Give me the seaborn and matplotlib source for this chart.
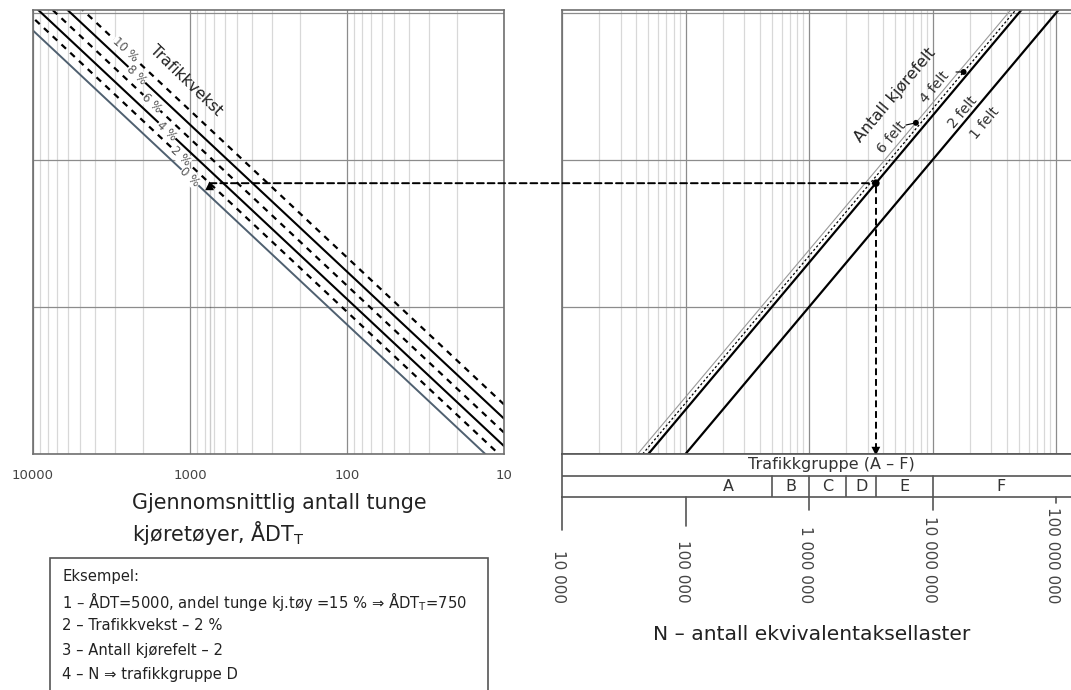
import numpy as np
import pandas as pd
import matplotlib.pyplot as plt
import seaborn as sns
from matplotlib.ticker import LogLocator, NullLocator, NullFormatter
from matplotlib.patches import ConnectionPatch, Rectangle

# --- data -------------------------------------------------------------
adt_ende = [10, 10000]                     # ÅDT_T, endepunkter
aksler_per_adt = 7600                      # Y per ÅDT_T (0 % vekst)
vekst_navn = ["0 %", "2 %", "4 %", "6 %", "8 %", "10 %"]
vekst_faktor = [1.00, 1.22, 1.49, 1.84, 2.29, 2.86]

y_ende = [1e5, 1.3e8]
felt_navn = ["1 felt", "2 felt", "4 felt", "6 felt"]
felt_faktor = [1.00, 0.50, 0.45, 0.41]

gruppe_navn = ["A", "B", "C", "D", "E", "F"]
gruppe_grenser = [1e5, 5e5, 1e6, 2e6, 3.5e6, 1e7, 1.3e8]

adt_ticks = [10000, 1000, 100, 10]
adt_tick_labels = ["10000", "1000", "100", "10"]
n_ticks = [1e4, 1e5, 1e6, 1e7, 1e8]
n_tick_labels = ["10 000", "100 000", "1 000 000", "10 000 000", "100 000 000"]

eks_adt = 750
eks_vekst = "2 %"
eks_felt = "2 felt"
eks_tekst = [
    "Eksempel:",
    "1 – ÅDT=5000, andel tunge kj.tøy =15 % ⇒ ÅDT$_\\mathregular{T}$=750",
    "2 – Trafikkvekst – 2 %",
    "3 – Antall kjørefelt – 2",
    "4 – N ⇒ trafikkgruppe D",
]

# --- layout -----------------------------------------------------------
sns.set_style("white")
plt.rcParams["font.family"] = ["DejaVu Sans"]
W, H = 1071, 690
fig = plt.figure(figsize=(W / 100, H / 100), dpi=100)


def box(x0, y0, x1, y1):
    return [x0 / W, 1 - y1 / H, (x1 - x0) / W, (y1 - y0) / H]


def fp(x, y):
    return x / W, 1 - y / H


ax1 = fig.add_axes(box(33, 10, 504, 454))
ax2 = fig.add_axes(box(562, 10, 1076, 454))
axt = fig.add_axes(box(562, 454, 1076, 497))

ymax = 10 ** (5 + 444 / 147)
nmax = 10 ** (4 + (1076 - 562) / 123.5)

for ax in (ax1, ax2):
    ax.set_xscale("log")
    ax.set_yscale("log")
    ax.set_ylim(1e5, ymax)
    ax.xaxis.set_minor_locator(LogLocator(base=10, subs=range(2, 10)))
    ax.xaxis.set_minor_formatter(NullFormatter())
    ax.yaxis.set_major_locator(LogLocator(base=10))
    ax.yaxis.set_minor_locator(NullLocator())
    ax.grid(which="major", color="#8c8c8c", lw=0.9)
    ax.grid(which="minor", axis="x", color="#d8d8d8", lw=0.9)
    ax.set_axisbelow(True)
    ax.tick_params(which="both", length=0, labelleft=False)
    for s in ax.spines.values():
        s.set_color("#707070")
        s.set_linewidth(1.2)

ax1.set_xlim(10000, 10)
ax2.set_xlim(1e4, nmax)

# --- left panel: trafikkvekst -----------------------------------------
vekst_df = pd.DataFrame(
    [{"vekst": v, "adt": a, "Y": a * aksler_per_adt * f}
     for v, f in zip(vekst_navn, vekst_faktor) for a in adt_ende]
)
stiplet = (0, (2.8, 2.6))
stil = {
    "0 %": dict(color="#4f6070", lw=1.4, linestyle="-"),
    "2 %": dict(color="k", lw=1.6, linestyle=stiplet),
    "4 %": dict(color="k", lw=1.5, linestyle="-"),
    "6 %": dict(color="k", lw=1.6, linestyle=stiplet),
    "8 %": dict(color="k", lw=1.5, linestyle="-"),
    "10 %": dict(color="k", lw=1.6, linestyle=stiplet),
}
for v in vekst_navn:
    sns.lineplot(data=vekst_df[vekst_df.vekst == v], x="adt", y="Y", ax=ax1, **stil[v])

lab_adt = {"0 %": 1000, "2 %": 1150, "4 %": 1400, "6 %": 1750, "8 %": 2180, "10 %": 2600}
for v, f in zip(vekst_navn, vekst_faktor):
    a = lab_adt[v]
    ax1.text(a, a * aksler_per_adt * f, v, rotation=-43, ha="center", va="center",
             fontsize=8.5, color="#555555",
             bbox=dict(fc="white", ec="none", pad=0.25))
fig.text(*fp(186, 80), "Trafikkvekst", rotation=-44, ha="center", va="center",
         fontsize=11.3, color="#222222")

ax1.set_xticks(adt_ticks, adt_tick_labels)
ax1.tick_params(axis="x", pad=11, labelsize=9.5, labelcolor="#444444")
ax1.set(xlabel="", ylabel="")

# --- right panel: kjørefelt -------------------------------------------
felt_df = pd.DataFrame(
    [{"felt": n, "N": y * f, "Y": y} for n, f in zip(felt_navn, felt_faktor) for y in y_ende]
)
fstil = {
    "1 felt": dict(color="k", lw=1.6, linestyle="-"),
    "2 felt": dict(color="k", lw=1.6, linestyle="-"),
    "4 felt": dict(color="k", lw=0.9, linestyle=(0, (1.8, 1.8))),
    "6 felt": dict(color="#9a9a9a", lw=0.8, linestyle="-"),
}
for n in felt_navn:
    sns.lineplot(data=felt_df[felt_df.felt == n], x="N", y="Y", ax=ax2, **fstil[n])
ax2.set(xlabel="", ylabel="")
ax2.tick_params(axis="x", which="both", labelbottom=False)

ff = dict(zip(felt_navn, felt_faktor))
dots = pd.DataFrame({"N": [1.79e7 * ff["6 felt"], 3.97e7 * ff["4 felt"]],
                     "Y": [1.79e7, 3.97e7]})
sns.scatterplot(data=dots, x="N", y="Y", ax=ax2, color="k", s=18, zorder=5, edgecolor="none")
ax2.set(xlabel="", ylabel="")
for (x, y), (tx, ty) in zip(dots[["N", "Y"]].values, [(906, 125), (956, 72)]):
    ax2.annotate("", xy=(x, y), xytext=fp(tx, ty), textcoords="figure fraction",
                 arrowprops=dict(arrowstyle="-", lw=0.8, color="k", shrinkA=0, shrinkB=0))
fig.text(*fp(895, 95), "Antall kjørefelt", rotation=50, ha="center", va="center",
         fontsize=11.5, color="#222222")
for n, (x, y) in zip(["6 felt", "4 felt", "2 felt", "1 felt"],
                     [(892, 137), (935, 87), (963, 112), (985, 123)]):
    fig.text(*fp(x, y), n, rotation=50, ha="center", va="center", fontsize=10.3,
             color="#333333")

# --- example path -----------------------------------------------------
y_eks = eks_adt * aksler_per_adt * dict(zip(vekst_navn, vekst_faktor))[eks_vekst]
n_eks = y_eks * ff[eks_felt]
dash = dict(color="k", lw=1.4, linestyle=(0, (3.5, 2)))
sns.lineplot(x=[eks_adt, eks_adt], y=[1e5, y_eks * 0.95], ax=ax1, **dash)
sns.scatterplot(x=[eks_adt], y=[y_eks * 0.96], ax=ax1, marker="^", color="k", s=40,
                zorder=6, edgecolor="none")
fig.add_artist(ConnectionPatch(xyA=(eks_adt, y_eks), coordsA="data", axesA=ax1,
                               xyB=(n_eks, y_eks), coordsB="data", axesB=ax2,
                               color="k", lw=1.4, linestyle=(0, (3.5, 2))))
sns.scatterplot(x=[n_eks], y=[y_eks], ax=ax2, color="k", s=30, zorder=6, edgecolor="none")
sns.lineplot(x=[n_eks, n_eks], y=[y_eks, 1.06e5], ax=ax2, orient="y", **dash)
sns.scatterplot(x=[n_eks], y=[1.045e5], ax=ax2, marker="v", color="k", s=40,
                zorder=6, edgecolor="none")
ax1.set(xlabel="", ylabel="")
ax2.set(xlabel="", ylabel="")

# --- trafikkgruppe table ----------------------------------------------
axt.set_xscale("log")
axt.set_xlim(1e4, nmax)
axt.set_ylim(0, 2)
axt.set_xticks([])
axt.set_yticks([])
axt.xaxis.set_minor_locator(NullLocator())
for s in axt.spines.values():
    s.set_color("#555555")
    s.set_linewidth(1.2)
axt.axhline(1, color="#555555", lw=1.2)
for g in gruppe_grenser[1:-1]:
    axt.plot([g, g], [0, 1], color="#555555", lw=1.2)
axt.text(1.53e6, 1.5, "Trafikkgruppe (A – F)", ha="center", va="center", fontsize=11.5,
         color="#333333")
for i, navn in enumerate(gruppe_navn):
    xm = np.sqrt(gruppe_grenser[i] * gruppe_grenser[i + 1])
    axt.text(xm, 0.5, navn, ha="center", va="center", fontsize=11.5, color="#333333")

tick_len = [33, 29, 13, 13, 6]
tr = axt.get_xaxis_transform()
for x, lab, L in zip(n_ticks, n_tick_labels, tick_len):
    axt.plot([x, x], [0, -L / 43], color="#555555", lw=1.2, transform=tr, clip_on=False)
    axt.annotate(lab, xy=(x, 0), xycoords=tr, xytext=(-2.5, -106 * 0.72),
                 textcoords="offset points", rotation=270, ha="center", va="bottom",
                 fontsize=11, color="#444444", annotation_clip=False)

# --- axis titles and example box --------------------------------------
fig.text(*fp(132, 503), "Gjennomsnittlig antall tunge", ha="left", va="center",
         fontsize=14.9, color="#222222")
fig.text(*fp(132, 533), "kjøretøyer, ÅDT$_\\mathregular{T}$", ha="left", va="center",
         fontsize=14.9, color="#222222")
fig.text(*fp(812, 635), "N – antall ekvivalentaksellaster", ha="center", va="center",
         fontsize=14.6, color="#222222")

x0, y0 = fp(50, 720)
x1, y1 = fp(488, 558)
fig.add_artist(Rectangle((x0, y0), x1 - x0, y1 - y0, transform=fig.transFigure,
                         fill=False, ec="#555555", lw=1.2))
for i, t in enumerate(eks_tekst):
    fig.text(*fp(62, 577 + 24.5 * i), t, ha="left", va="center", fontsize=10.6,
             color="#222222")

fig.savefig("out.png", dpi=100)
